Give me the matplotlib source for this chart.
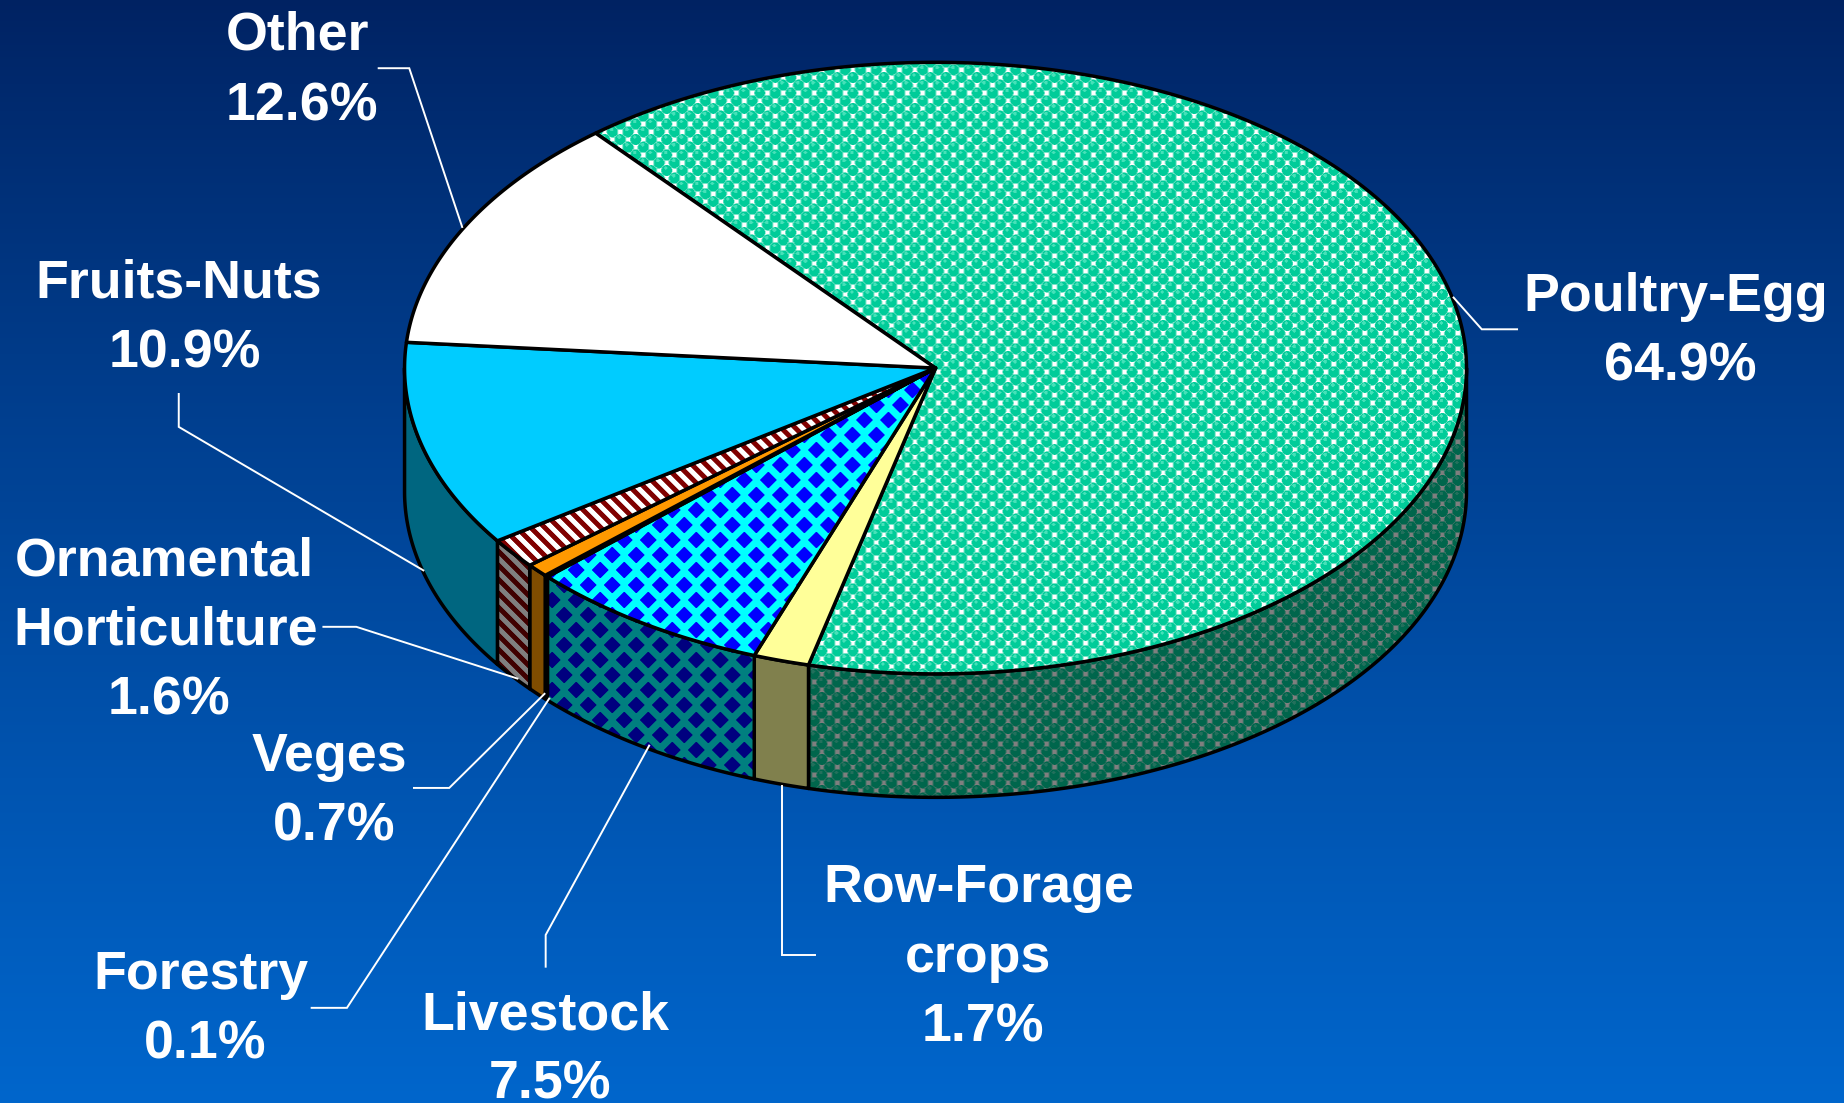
import numpy as np
import matplotlib
matplotlib.use('Agg')
import matplotlib.pyplot as plt
from matplotlib.patches import Polygon

W, H = 1844, 1103
S = W / 1568.0  # label positions were read on a 1568 wide view

names = ['Poultry-Egg', 'Row-Forage crops', 'Livestock', 'Forestry', 'Veges',
         'Ornamental Horticulture', 'Fruits-Nuts', 'Other']
values = [64.9, 1.7, 7.5, 0.1, 0.7, 1.6, 10.9, 12.6]
fills = ['balls', (255, 255, 153), 'diamonds', (0, 51, 153), (255, 153, 0),
         'stripes', (0, 204, 255), (255, 255, 255)]

label_lines = ['Other', '12.6%', 'Poultry-Egg', '64.9%', 'Fruits-Nuts', '10.9%',
               'Ornamental', 'Horticulture', '1.6%', 'Veges', '0.7%',
               'Forestry', '0.1%', 'Livestock', '7.5%', 'Row-Forage', 'crops', '1.7%']
label_x = [253, 257, 1425, 1429, 152, 157, 140, 141, 144, 280, 284, 171, 174, 464, 468, 832, 832, 836]
label_y = [27, 87, 249, 308, 238, 297, 474, 533, 592, 640, 699, 826, 885, 860, 919, 752, 811, 870]

leaders = [
    [(322, 58), (348, 58), (393, 193)],
    [(1236, 253), (1260, 280), (1290, 280)],
    [(152, 335), (152, 363), (360, 485)],
    [(275, 533), (303, 533), (440, 577)],
    [(352, 670), (382, 670), (463, 590)],
    [(265, 857), (295, 857), (467, 594)],
    [(464, 822), (464, 795), (552, 634)],
    [(693, 812), (665, 812), (665, 668)],
]

cx, cy = 795.5 * S, 313 * S
a, b = 451.5 * S, 260 * S
depth = 105 * S
start = 129.8

X, Y = np.meshgrid(np.arange(W) + 0.5, np.arange(H) + 0.5)


def balls():
    p = 15.5
    iu = np.round((X + Y) / p)
    iv = np.round((X - Y) / p)
    dx = X - (iu + iv) * p / 2
    dy = Y - (iu - iv) * p / 2
    d = np.hypot(dx, dy)
    img = np.ones((H, W, 3))
    img[d < 6.0] = np.array([120, 228, 200]) / 255
    img[d < 5.2] = np.array([0, 204, 153]) / 255
    img[np.hypot(dx + 1.0, dy + 2.5) < 1.8] = np.array([70, 225, 185]) / 255
    return img


def diamonds():
    px, py = 24.0, 30.0
    iu = np.round(X / px + Y / py)
    iv = np.round(X / px - Y / py)
    dx = X - (iu + iv) * px / 2
    dy = Y - (iu - iv) * py / 2
    img = np.zeros((H, W, 3))
    img[:] = np.array([0, 255, 255]) / 255
    img[np.abs(dx) + np.abs(dy) < 8.5] = np.array([0, 0, 255]) / 255
    return img


def stripes():
    img = np.ones((H, W, 3))
    img[((X - Y) % 14.0) < 6.5] = np.array([128, 0, 0]) / 255
    return img


textures = {'balls': balls(), 'diamonds': diamonds(), 'stripes': stripes()}

fig = plt.figure(figsize=(W / 100, H / 100), dpi=100)
ax = fig.add_axes([0, 0, 1, 1])
ax.set_xlim(0, W)
ax.set_ylim(H, 0)
ax.axis('off')

# background goes dark navy at the top to mid blue at the bottom
grad = np.zeros((H, 1, 3))
frac = np.linspace(0, 1, H) ** 0.88
grad[:, 0, 1] = (34 + (102 - 34) * frac) / 255
grad[:, 0, 2] = (98 + (204 - 98) * frac) / 255
ax.imshow(grad, extent=(0, W, H, 0), aspect='auto', zorder=0)


def fill_poly(pts, fill, shade, z):
    if isinstance(fill, str):
        patch = Polygon(pts, closed=True, facecolor='none', edgecolor='black', linewidth=2.5,
                        joinstyle='round', zorder=z + 0.1)
        ax.add_patch(patch)
        im = ax.imshow(textures[fill] * shade, extent=(0, W, H, 0), aspect='auto', zorder=z)
        im.set_clip_path(patch)
    else:
        col = np.array(fill) / 255 * shade
        ax.add_patch(Polygon(pts, closed=True, facecolor=col, edgecolor='black', linewidth=2.5,
                             joinstyle='round', zorder=z))


edges = start - np.cumsum([0] + values) * 3.6

# outer wall first, only the part of each slice that faces the viewer
for i in range(len(values)):
    t0, t1 = edges[i], edges[i + 1]
    lo, hi = max(t1, -180), min(t0, 0)
    if lo >= hi:
        lo, hi = max(t1 - 360, -180), min(t0 - 360, 0)
    if lo >= hi:
        continue
    t = np.radians(np.linspace(hi, lo, 150))
    xs = cx + a * np.cos(t)
    ys = cy - b * np.sin(t)
    pts = np.column_stack([np.r_[xs, xs[::-1]], np.r_[ys, ys[::-1] + depth]])
    fill_poly(pts, fills[i], 0.5, 2 + i * 0.2)

# top face
for i in range(len(values)):
    t = np.radians(np.linspace(edges[i], edges[i + 1], max(int(values[i] * 6), 4)))
    xs = np.r_[cx, cx + a * np.cos(t)]
    ys = np.r_[cy, cy - b * np.sin(t)]
    fill_poly(np.column_stack([xs, ys]), fills[i], 1.0, 5 + i * 0.2)

for pts in leaders:
    pts = np.array(pts) * S
    ax.plot(pts[:, 0], pts[:, 1], color='white', linewidth=1.4, zorder=8, solid_joinstyle='miter')

for txt, x, y in zip(label_lines, label_x, label_y):
    ax.text(x * S, y * S + 18, txt, ha='center', va='baseline', color='white', fontsize=38.7,
            fontweight='bold', family='Liberation Sans', zorder=9)

fig.savefig('out.png', dpi=100)
